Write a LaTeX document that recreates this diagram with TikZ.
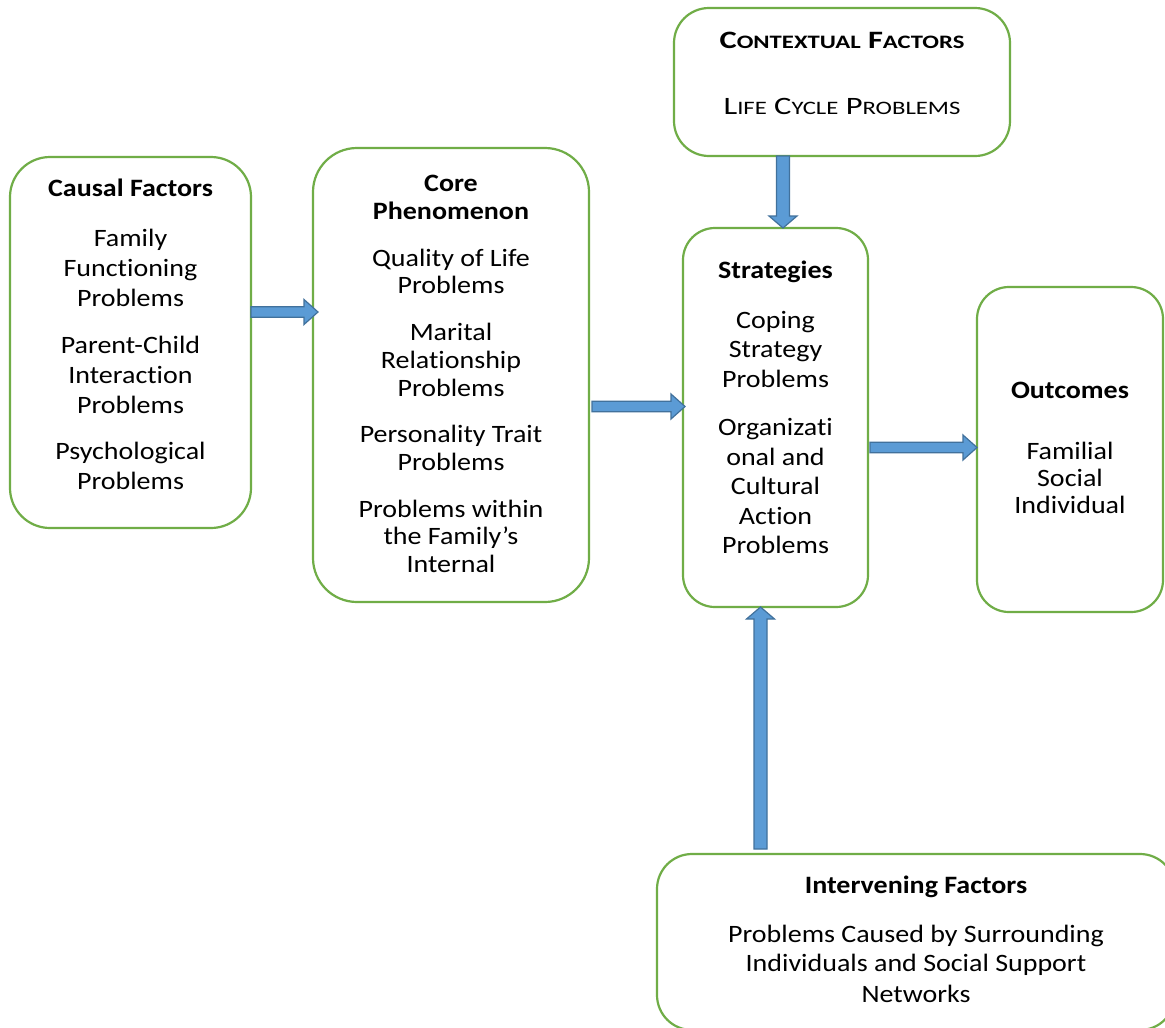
\documentclass[tikz,border=0pt]{standalone}
\usepackage{fontspec}
\setmainfont{Carlito}[FakeStretch=1.12, Ligatures={CommonOff,RequiredOff,ContextualOff}, Contextuals=AlternateOff]
\newfontfamily\ctxfont{Carlito}[FakeStretch=1.3, Ligatures={CommonOff,RequiredOff,ContextualOff}, Contextuals=AlternateOff]
\usetikzlibrary{calc}
\definecolor{boxgreen}{HTML}{70AD47}
\definecolor{arrfill}{HTML}{5B9BD5}
\definecolor{arrline}{HTML}{41719C}
\newcommand\smc[1]{{\fontsize{19}{30}\selectfont #1}}
\newcommand\tiz{t\kern0pt i}
\newcommand\harrow[2]{\path[barrow] let \p1=#1, \p2=#2 in
  (\x1,\y1+5.25pt) -- (\x2-14pt,\y1+5.25pt) -- (\x2-14pt,\y1+12.5pt) -- (\x2,\y1)
  -- (\x2-14pt,\y1-12.5pt) -- (\x2-14pt,\y1-5.25pt) -- (\x1,\y1-5.25pt) -- cycle;}
\newcommand\varrow[2]{\path[barrow] let \p1=#1, \p2=#2, \p3=($(\p2)!12pt!(\p1)$) in
  (\x1-6.5pt,\y1) -- (\x1-6.5pt,\y3) -- (\x1-14pt,\y3) -- (\x1,\y2)
  -- (\x1+14pt,\y3) -- (\x1+6.5pt,\y3) -- (\x1+6.5pt,\y1) -- cycle;}
\tikzset{
  box/.style={draw=boxgreen, line width=2.2pt, rectangle, inner sep=0pt, outer sep=0pt},
  txt/.style={anchor=north, align=center, inner sep=0pt, font=\fontsize{25}{#1}\selectfont},
  barrow/.style={fill=arrfill, draw=arrline, line width=1.2pt, line join=miter},
}
\begin{document}
\begin{tikzpicture}[x=1pt,y=-1pt]
\useasboundingbox (0,0) rectangle (1165,1028);
\clip (0,0) rectangle (1165,1028);
\fill[white] (0,0) rectangle (1165,1028);
% boxes
\node[box, rounded corners=40pt, minimum width=241pt, minimum height=371pt] (causal) at (130.5,342.5) {};
\node[box, rounded corners=44pt, minimum width=276pt, minimum height=454pt] (core) at (451,375) {};
\node[box, rounded corners=35pt, minimum width=336pt, minimum height=148pt] (context) at (842,82) {};
\node[box, rounded corners=32pt, minimum width=185pt, minimum height=379pt] (strat) at (775.5,417.5) {};
\node[box, rounded corners=32pt, minimum width=186pt, minimum height=325pt] (outcome) at (1070,449.5) {};
\node[box, rounded corners=35pt, minimum width=518pt, minimum height=176pt] (interv) at (916,942) {};
% texts
\node[txt=30] (causalT) at (130.5,175) {\strut\textbf{Causal Factors}\\[20pt] Family\\ Func\tiz oning\\ Problems\\[17pt] Parent-Child\\ Interac\tiz on\\ Problems\\[16pt] Psychological\\ Problems};
\node[txt=27.7] (coreT) at (451,172.3) {\strut\textbf{Core}\\ \textbf{Phenomenon}\\[19pt] Quality of Life\\ Problems\\[19pt] Marital\\ Rela\tiz onship\\ Problems\\[19pt] Personality Trait\\ Problems\\[19pt] Problems within\\ the Family’s\\ Internal};
\node[txt=29.5] (stratT) at (775.5,257.4) {\strut\textbf{Strategies}\\[20.5pt] Coping\\ Strategy\\ Problems\\[19pt] Organiza\tiz\\ onal and\\ Cultural\\ Ac\tiz on\\ Problems};
\node[txt=27] (outT) at (1070,379.1) {\strut\textbf{Outcomes}\\[34pt] Familial\\ Social\\ Individual};
\node[txt=30, font=\ctxfont\fontsize{25}{30}\selectfont] (contT) at (842,27) {\strut\textbf{C\smc{ONTEXTUAL} F\smc{ACTORS}}\\[36pt] L\smc{IFE} C\smc{YCLE} P\smc{ROBLEMS}};
\node[txt=29.5] (intT) at (916,872.4) {\strut\textbf{Intervening Factors}\\[19.5pt] Problems Caused by Surrounding\\ Individuals and Social Support\\[1.5pt] Networks};
% arrows
\harrow{(causal.east |- 0,312)}{($(core.west |- 0,312)+(5,0)$)}
\harrow{($(core.east |- 0,406.5)+(3,0)$)}{($(strat.west |- 0,406.5)+(2,0)$)}
\harrow{($(strat.east |- 0,447.5)+(2,0)$)}{(outcome.west |- 0,447.5)}
\varrow{(context.south -| 783,0)}{(strat.north -| 783,0)}
\varrow{($(interv.north -| 760.5,0)+(0,-5)$)}{(strat.south -| 760.5,0)}
\end{tikzpicture}
\end{document}
